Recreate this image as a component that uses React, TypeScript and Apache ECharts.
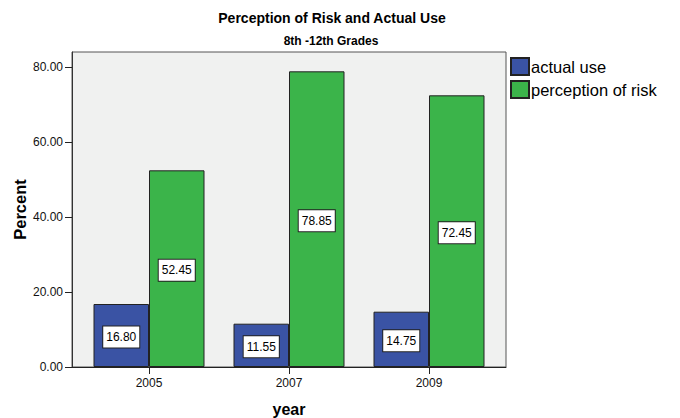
import React, { useEffect, useRef } from "react";
import * as echarts from "echarts";

const years = ["2005", "2007", "2009"];
const actualUse = [16.8, 11.55, 14.75];
const perceptionOfRisk = [52.45, 78.85, 72.45];
const yTicks = [0, 20, 40, 60, 80];
const seriesNames = ["actual use", "perception of risk"];

const FONT = "Liberation Sans, Arial, sans-serif";

export default function App() {
  const ref = useRef<HTMLDivElement>(null);
  useEffect(() => {
    if (!ref.current) return;
    const chart = echarts.init(ref.current, null, { renderer: "svg" });
    const labelCfg = {
      show: true,
      position: "inside",
      formatter: (p: any) => Number(p.value[1]).toFixed(2),
      backgroundColor: "#ffffff",
      borderColor: "#222",
      borderWidth: 1,
      padding: [5, 3, 4, 3],
      fontSize: 12,
      color: "#000",
      fontFamily: FONT,
      offset: [0, 1.5],
    };
    chart.setOption({
      animation: false,
      title: [
        {
          text: "Perception of Risk and Actual Use",
          left: 332,
          textAlign: "center",
          top: 11,
          padding: 0,
          textStyle: { fontSize: 14, fontWeight: "bold", color: "#000", fontFamily: FONT },
        },
        {
          text: "8th -12th Grades",
          left: 331,
          textAlign: "center",
          top: 35,
          padding: 0,
          textStyle: { fontSize: 12, fontWeight: "bold", color: "#000", fontFamily: FONT },
        },
      ],
      legend: {
        data: seriesNames,
        orient: "vertical",
        left: 510,
        top: 57,
        padding: 0,
        itemWidth: 18,
        itemHeight: 17,
        itemGap: 4,
        icon: "rect",
        align: "left",
        textStyle: { fontSize: 16.5, color: "#000", fontFamily: FONT, lineHeight: 17, padding: [0, 0, 0, -3] },
      },
      grid: {
        left: 72,
        right: 174,
        top: 52,
        bottom: 51,
        show: true,
        backgroundColor: "#f0f1f0",
        borderColor: "#555",
        borderWidth: 1,
        outerBoundsMode: "none",
        containLabel: false,
      },
      xAxis: {
        type: "value",
        min: -0.55,
        max: 2.55,
        name: "year",
        nameLocation: "middle",
        nameGap: 34,
        nameMoveOverlap: false,
        nameTextStyle: { fontSize: 16, fontWeight: "bold", color: "#000", fontFamily: FONT },
        axisLine: { show: true, onZero: false, lineStyle: { color: "#222", width: 1 } },
        axisTick: { show: true, length: 7, customValues: [0, 1, 2], lineStyle: { color: "#222" } },
        axisLabel: {
          customValues: [0, 1, 2],
          formatter: (v: number) => years[Math.round(v)] ?? "",
          fontSize: 12,
          color: "#111",
          fontFamily: FONT,
          margin: 10,
        },
        splitLine: { show: false },
      },
      yAxis: {
        type: "value",
        min: 0,
        max: 84,
        name: "Percent",
        nameLocation: "middle",
        nameGap: 44,
        nameMoveOverlap: false,
        nameTextStyle: { fontSize: 16.5, fontWeight: "bold", color: "#000", fontFamily: FONT },
        axisLine: { show: true, onZero: false, lineStyle: { color: "#333", width: 1 } },
        axisTick: { show: true, length: 7, customValues: yTicks, lineStyle: { color: "#222" } },
        axisLabel: {
          customValues: yTicks,
          formatter: (v: number) => v.toFixed(2),
          fontSize: 12,
          color: "#111",
          fontFamily: FONT,
          margin: 9,
        },
        splitLine: { show: false },
      },
      series: [
        {
          name: seriesNames[0],
          type: "bar",
          barWidth: 55.5,
          barGap: "0%",
          data: actualUse.map((v, i) => [i, v]),
          itemStyle: { color: "#3a53a4", borderColor: "#222", borderWidth: 1 },
          label: labelCfg,
        },
        {
          name: seriesNames[1],
          type: "bar",
          barWidth: 55.5,
          barGap: "0%",
          data: perceptionOfRisk.map((v, i) => [i, v]),
          itemStyle: { color: "#3bb44a", borderColor: "#222", borderWidth: 1 },
          label: labelCfg,
        },
      ],
    });
    return () => chart.dispose();
  }, []);
  return <div ref={ref} style={{ width: 680, height: 418, position: "absolute", left: 0, top: 0 }} />;
}
